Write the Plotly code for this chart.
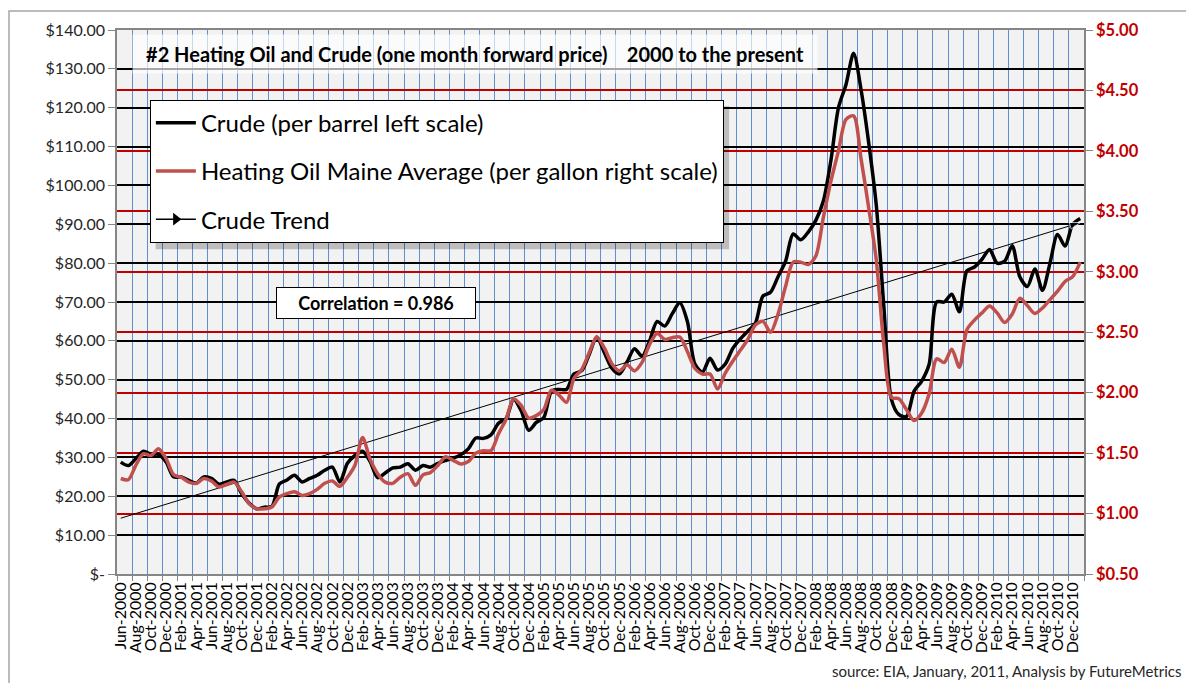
import numpy as np
import pandas as pd
import plotly.graph_objects as go

# monthly categories Jun-2000 .. Jan-2011
months = pd.date_range("2000-06-01", "2011-01-01", freq="MS")
month_labels = [m.strftime("%b-%Y") for m in months]

# crude, $/barrel (left scale)
crude = [
    28.8, 27.9, 29.7, 31.6, 30.8, 30.8, 28.8, 25.0, 25.0, 24.1,
    23.4, 25.0, 24.6, 23.1, 23.7, 24.1, 20.7, 18.2, 16.8, 17.2,
    17.4, 23.2, 24.2, 25.4, 23.7, 24.6, 25.4, 26.7, 27.5, 23.7,
    28.5, 30.5, 31.6, 29.0, 24.8, 26.0, 27.3, 27.5, 28.4, 26.7,
    27.9, 27.5, 28.5, 29.2, 29.8, 30.7, 32.2, 35.0, 34.9, 35.8,
    38.8, 40.0, 45.0, 42.0, 37.0, 39.0, 40.3, 47.0, 47.5, 47.5,
    51.5, 52.3, 56.5, 61.0, 57.0, 53.0, 51.5, 54.5, 58.0, 56.0,
    60.0, 65.0, 63.8, 67.0, 69.8, 65.0, 54.0, 52.0, 55.5, 52.5,
    54.0, 58.0, 60.5, 62.5, 64.5, 71.5, 72.5, 76.5, 80.5, 87.5,
    86.0, 88.0, 91.0, 96.0, 106.5, 120.0, 126.0, 134.0, 124.5, 111.0,
    95.0, 69.0, 45.0, 41.0, 40.5, 47.0, 49.6, 54.0, 70.0, 70.0,
    72.0, 67.5, 78.0, 79.0, 81.0, 83.5, 80.0, 80.5, 84.5, 76.5,
    74.0, 78.5, 73.0, 80.0, 87.4, 84.4, 90.0, 91.5,
]

# #2 heating oil, Maine average, $/gallon (right scale)
heating_oil = [
    1.29, 1.28, 1.40, 1.495, 1.48, 1.536, 1.454, 1.32, 1.30, 1.26,
    1.25, 1.29, 1.27, 1.22, 1.24, 1.26, 1.18, 1.08, 1.04, 1.04,
    1.055, 1.137, 1.165, 1.18, 1.15, 1.165, 1.20, 1.25, 1.27, 1.225,
    1.30, 1.40, 1.63, 1.45, 1.33, 1.26, 1.25, 1.30, 1.33, 1.234,
    1.32, 1.34, 1.40, 1.47, 1.44, 1.41, 1.43, 1.50, 1.52, 1.52,
    1.66, 1.78, 1.95, 1.893, 1.79, 1.81, 1.86, 2.02, 1.98, 1.92,
    2.12, 2.19, 2.33, 2.46, 2.37, 2.24, 2.18, 2.23, 2.18, 2.25,
    2.40, 2.49, 2.44, 2.455, 2.46, 2.34, 2.20, 2.154, 2.154, 2.03,
    2.16, 2.26, 2.35, 2.44, 2.56, 2.59, 2.50, 2.65, 2.88, 3.08,
    3.08, 3.06, 3.13, 3.45, 3.75, 4.00, 4.26, 4.29, 3.93, 3.53,
    3.10, 2.40, 1.96, 1.95, 1.86, 1.77, 1.83, 1.99, 2.28, 2.25,
    2.36, 2.21, 2.52, 2.60, 2.66, 2.717, 2.66, 2.58, 2.65, 2.78,
    2.72, 2.655, 2.70, 2.77, 2.84, 2.92, 2.96, 3.08,
]

left_ticks = [0, 10, 20, 30, 40, 50, 60, 70, 80, 90, 100, 110, 120, 130, 140]
left_tick_labels = ["$-"] + [f"${v:.2f}" for v in left_ticks[1:]]
right_ticks = [0.5, 1.0, 1.5, 2.0, 2.5, 3.0, 3.5, 4.0, 4.5, 5.0]
right_tick_labels = [f"${v:.2f}" for v in right_ticks]

x = np.arange(len(months))

# linear trend of crude
slope, intercept = np.polyfit(x, crude, 1)
trend_x = [x[0], x[-1]]
trend_y = [intercept + slope * x[0], intercept + slope * x[-1]]

FONT = "Lato, 'Open Sans', sans-serif"
DARK_RED = "#C00000"

fig = go.Figure()

fig.add_trace(go.Scatter(
    x=x, y=crude, mode="lines",
    line=dict(color="black", width=3.5, shape="spline", smoothing=0.8),
    name="Crude (per barrel left scale)", legendgroup="a",
))
fig.add_trace(go.Scatter(
    x=x, y=heating_oil, mode="lines", yaxis="y2",
    line=dict(color="#C0504D", width=3.5, shape="spline", smoothing=0.8),
    name="Heating Oil Maine Average (per gallon right scale)", legendgroup="b",
))
fig.add_trace(go.Scatter(
    x=trend_x, y=trend_y, mode="lines+markers",
    line=dict(color="black", width=1),
    marker=dict(symbol=["circle", "arrow"], size=[0, 11], angleref="previous", color="black"),
    showlegend=False, hoverinfo="skip",
))
# legend entry for the trend
fig.add_trace(go.Scatter(
    x=[None], y=[None], mode="lines+markers",
    line=dict(color="black", width=1.5),
    marker=dict(symbol="triangle-right", size=11, color="black"),
    name="Crude Trend", legendgroup="c",
))

fig.add_annotation(
    xref="paper", yref="paper", x=0.37, y=0.956, xanchor="center", yanchor="middle",
    text="<b>#2 Heating Oil and Crude (one month forward price)\u00a0\u00a0\u00a0 2000 to the present</b>",
    showarrow=False, font=dict(family=FONT, size=20, color="black"),
    bgcolor="rgba(255,255,255,0.65)", width=670, height=24, borderpad=7,
)
fig.add_annotation(
    xref="paper", yref="paper", x=0.268, y=0.498, xanchor="center", yanchor="middle",
    text="<b>Correlation = 0.986</b>", showarrow=False,
    font=dict(family=FONT, size=18, color="black"),
    bgcolor="white", bordercolor="black", borderwidth=1,
    width=188, height=20, borderpad=5,
)
fig.add_annotation(
    xref="paper", yref="paper", x=1.1024, y=-0.178, xanchor="right", yanchor="middle",
    text="source: EIA, January, 2011, Analysis by FutureMetrics",
    showarrow=False, font=dict(family=FONT, size=15, color="#262626"),
)

# soft shadow behind the legend box
fig.add_shape(type="rect", xref="paper", yref="paper",
              x0=0.040, x1=0.633, y0=0.597, y1=0.86,
              fillcolor="rgba(0,0,0,0.22)", line=dict(width=0), layer="above")

# outer chart border
fig.add_shape(type="rect", xref="paper", yref="paper",
              x0=-0.1117, y0=-0.4, x1=1.3, y1=1.0348,
              line=dict(color="#A6A6A6", width=1.5), layer="below")

# page body adds an 8px offset, so the figure is shifted up/left by that much
fig.update_layout(
    width=1178, height=675,
    margin=dict(l=109, r=102, t=20, b=109),
    paper_bgcolor="white", plot_bgcolor="#F2F2F2",
    font=dict(family=FONT, size=15, color="#262626"),
    showlegend=True,
    legend=dict(
        x=0.034, y=0.872, xanchor="left", yanchor="top",
        bgcolor="white", bordercolor="black", borderwidth=1,
        font=dict(family=FONT, size=24, color="black"),
        traceorder="grouped", tracegroupgap=14, itemwidth=40,
    ),
    xaxis=dict(
        range=[-0.5, 127.5], tickmode="array",
        tickvals=x[::2], ticktext=month_labels[::2],
        tickangle=-90, tickfont=dict(size=16, color="black"),
        showgrid=False, zeroline=False, ticks="",
        showline=True, linecolor="#868686", linewidth=1.5, mirror=True,
        minor=dict(tickmode="linear", tick0=-0.5, dtick=2, showgrid=True,
                   gridcolor="#5E8FD3", gridwidth=1.2,
                   ticks="outside", ticklen=5, tickcolor="#868686"),
    ),
    yaxis=dict(
        range=[0, 140], tickmode="array", tickvals=left_ticks, ticktext=left_tick_labels,
        tickfont=dict(size=16, color="#262626"),
        gridcolor="black", gridwidth=1.6, zeroline=False,
        ticks="outside", ticklen=7, tickcolor="#868686",
        showline=True, linecolor="#868686", linewidth=1.5,
    ),
    yaxis2=dict(
        range=[0.5, 5.0], overlaying="y", side="right",
        tickmode="array", tickvals=right_ticks, ticktext=right_tick_labels,
        tickfont=dict(size=16.5, color=DARK_RED, weight="bold"),
        gridcolor=DARK_RED, gridwidth=2.2, zeroline=False,
        ticks="outside", ticklen=7, tickcolor="#868686",
        showline=True, linecolor="#868686", linewidth=1.5,
    ),
)

fig.write_html("out.html")
